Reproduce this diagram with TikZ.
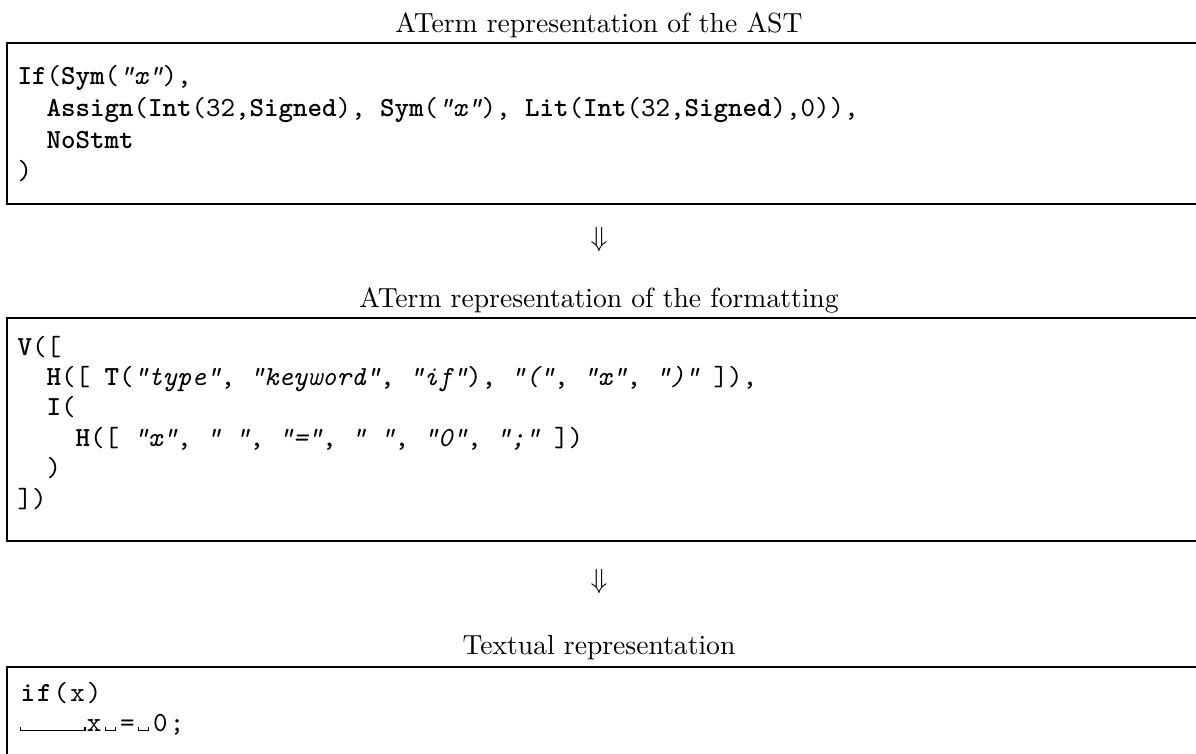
\documentclass[tikz,border=0pt]{standalone}
\usepackage{amsmath}
\usepackage{amssymb}
\usepackage{tikz}
\usetikzlibrary{arrows,calc,positioning}

\newlength\cw
\setlength\cw{5.25pt}
\makeatletter
\newcommand\fixrun[2]{\@tfor\nx@ch:=#2\do{\makebox[\cw]{#1\nx@ch}}}
\makeatother
\newcommand\kw[1]{\fixrun{\bfseries}{#1}}
\newcommand\pl[1]{\fixrun{}{#1}}
\newcommand\qs[1]{\fixrun{\itshape}{"#1"}}
\newcommand\blank{\hspace*{\cw}}
\newcommand\cell[1]{\makebox[6pt]{#1}}
\newcommand\vis[1]{\rule{0.4pt}{1.3pt}\rule{#1}{0.4pt}\rule{0.4pt}{1.3pt}}

\begin{document}
\begin{tikzpicture}[x=0.362pt,y=-0.362pt,
    titletext/.style={anchor=base,inner sep=0pt},
    codeline/.style={anchor=base west,inner sep=0pt,font=\ttfamily},
    framebox/.style={draw,line width=0.45pt}]
  \useasboundingbox (0,0) rectangle (1196,753);
  \clip (0,0) rectangle (1196,753);

  % the AST
  \node[titletext] (tast) at (599,32) {ATerm representation of the AST};
  \draw[framebox] (7,43) rectangle (1215,204);
  \node[codeline] (ast1) at (17,84) {\kw{If}\pl{(}\kw{Sym}\pl{(}\qs{x}\pl{),}};
  \node[codeline] (ast2) at (17,116) {\blank\blank\kw{Assign}\pl{(}\kw{Int}\pl{(32,}\kw{Signed}\pl{),}\blank\kw{Sym}\pl{(}\qs{x}\pl{),}\blank\kw{Lit}\pl{(}\kw{Int}\pl{(32,}\kw{Signed}\pl{),0)),}};
  \node[codeline] (ast3) at (17,148) {\blank\blank\kw{NoStmt}};
  \node[codeline] (ast4) at (17,179.5) {\pl{)}};

  \node (down1) at (599,240) {$\Downarrow$};

  % the formatting
  \node[titletext] (tfmt) at (599,307) {ATerm representation of the formatting};
  \draw[framebox] (7,318) rectangle (1215,541);
  \node[codeline] (fmt1) at (17,355) {\kw{V}\pl{([}};
  \node[codeline] (fmt2) at (17,385) {\blank\blank\kw{H}\pl{([}\blank\kw{T}\pl{(}\qs{type}\pl{,}\blank\qs{keyword}\pl{,}\blank\qs{if}\pl{),}\blank\qs{(}\pl{,}\blank\qs{x}\pl{,}\blank\qs{)}\blank\pl{]),}};
  \node[codeline] (fmt3) at (17,415.5) {\blank\blank\kw{I}\pl{(}};
  \node[codeline] (fmt4) at (17,446) {\blank\blank\blank\blank\kw{H}\pl{([}\blank\qs{x}\pl{,}\blank\qs{{}}\pl{,}\blank\qs{=}\pl{,}\blank\qs{{}}\pl{,}\blank\qs{0}\pl{,}\blank\qs{;}\blank\pl{])}};
  \node[codeline] (fmt5) at (17,476.5) {\blank\blank\pl{)}};
  \node[codeline] (fmt6) at (17,507) {\pl{])}};

  \node (down2) at (599,582) {$\Downarrow$};

  % the text
  \node[titletext] (ttxt) at (599,654) {Textual representation};
  \draw[framebox] (7,667) rectangle (1215,790);
  \node[codeline] (txt1) at (19,701) {\cell{\kw{i}}\cell{\kw{f}}\cell{(}\cell{x}\cell{)}};
  \node[codeline] (txt2) at (19,731) {\makebox[24pt]{\vis{23pt}}\cell{x}\cell{\vis{3.2pt}}\cell{=}\cell{\vis{3.2pt}}\cell{0}\cell{;}};
\end{tikzpicture}
\end{document}
